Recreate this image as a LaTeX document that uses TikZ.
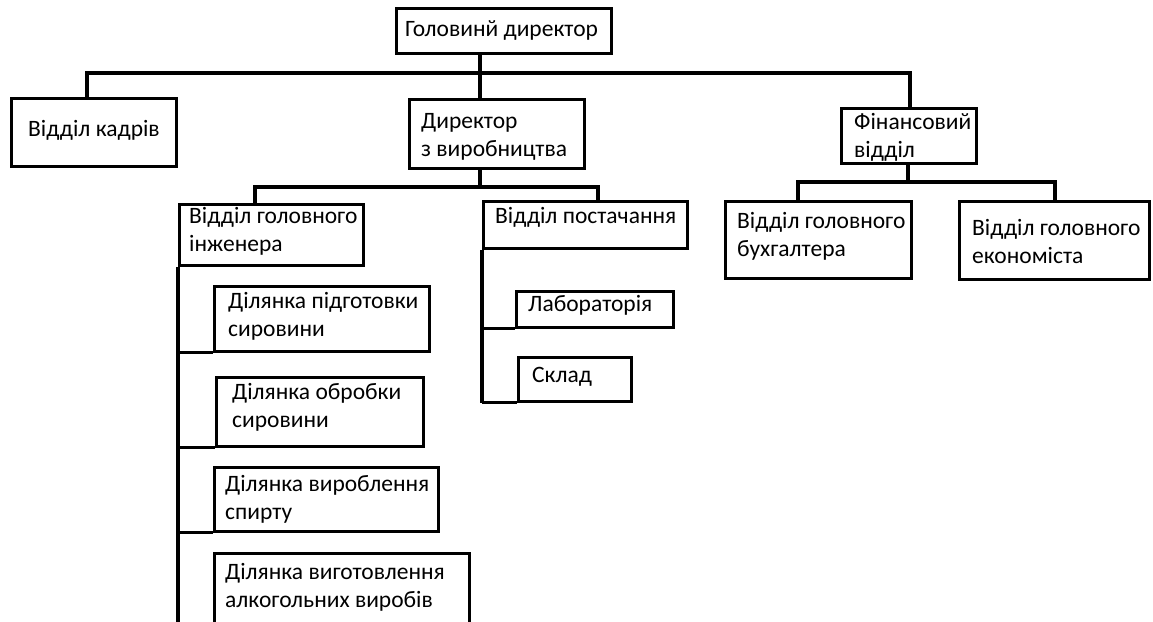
\documentclass[tikz,border=0pt]{standalone}
\usepackage{fontspec}
\setmainfont{Carlito}
\usetikzlibrary{calc}
\tikzset{
  box/.style={draw, line width=2.8pt, inner sep=0pt, anchor=north west},
  txt/.style={anchor=west, inner sep=0pt, align=left, font=\fontsize{23.5}{28}\selectfont},
  ln/.style={line width=3.2pt},
}
\newcommand\bx[5]{\node[box, minimum width={(#4-#2)*1pt}, minimum height={(#5-#3)*1pt}] (#1) at (#2,#3) {};}
\begin{document}
\begin{tikzpicture}[x=1pt,y=-1pt]
\useasboundingbox (0,0) rectangle (1153,621);
\clip (0,0) rectangle (1153,621);
\fill[white] (0,0) rectangle (1153,621);
% boxes
\bx{gd}{395}{7}{610}{52}
\bx{vk}{10}{97}{175}{165}
\bx{dv}{408}{98}{583}{167}
\bx{fv}{840}{107}{975}{162}
\bx{gi}{178}{203}{362}{264}
\bx{vp}{482}{200}{686}{247}
\bx{buh}{724}{200}{910}{277}
\bx{eko}{958}{200}{1148}{278}
\bx{lab}{515}{290}{672}{326}
\bx{skl}{517}{356}{630}{400}
\bx{d1}{213}{285}{428}{350}
\bx{d2}{215}{376}{422}{445}
\bx{d3}{213}{466}{437}{530}
\bx{d4}{213}{552}{468}{660}
% texts
\node[txt] (gdt) at (405,30) {Головинй директор};
\node[txt] (vkt) at (28,130) {Відділ кадрів};
\node[txt] (dvt) at (421,137) {Директор\\з виробництва};
\node[txt] (fvt) at (854,137) {Фінансовий\\відділ};
\node[txt] (git) at (189,231) {Відділ головного\\інженера};
\node[txt] (vpt) at (495,217) {Відділ постачання};
\node[txt] (buht) at (737,236) {Відділ головного\\бухгалтера};
\node[txt] (ekot) at (972,241) {Відділ головного\\економіста};
\node[txt] (labt) at (528,305) {Лабораторія};
\node[txt] (sklt) at (532,377) {Склад};
\node[txt] (d1t) at (228,316) {Ділянка підготовки\\сировини};
\node[txt] (d2t) at (232,407) {Ділянка обробки\\сировини};
\node[txt] (d3t) at (225,499) {Ділянка вироблення\\спирту};
\node[txt] (d4t) at (225,587) {Ділянка виготовлення\\алкогольних виробів};
% junction coordinates
\coordinate (j1) at (480,73);
\coordinate (j2) at (480,187);
\coordinate (j3) at (908,182);
\coordinate (bot) at (178,660);
% connectors
\draw[ln] (gd.south -| j1) -- (dv.north -| j1);
\draw[ln] (vk.north -| 87,0) |- (j1) -| (fv.north -| 910,0);
\draw[ln] (dv.south -| j2) -- (j2);
\draw[ln] (gi.north -| 255,0) |- (j2) -| (vp.north -| 598,0);
\draw[ln] (fv.south -| j3) -- (j3);
\draw[ln] (buh.north -| 798,0) |- (j3) -| (eko.north -| 1055,0);
\draw[ln] (gi.south west) -- (bot);
\draw[ln] (d1.south west) -- (d1.south west -| gi.west);
\draw[ln] (d2.south west) -- (d2.south west -| gi.west);
\draw[ln] (d3.south west) -- (d3.south west -| gi.west);
\draw[ln] (vp.south west) -- (vp.south west |- skl.south);
\draw[ln] (lab.south west) -- (lab.south west -| vp.west);
\draw[ln] (skl.south west) -- (skl.south west -| vp.west);
\end{tikzpicture}
\end{document}
